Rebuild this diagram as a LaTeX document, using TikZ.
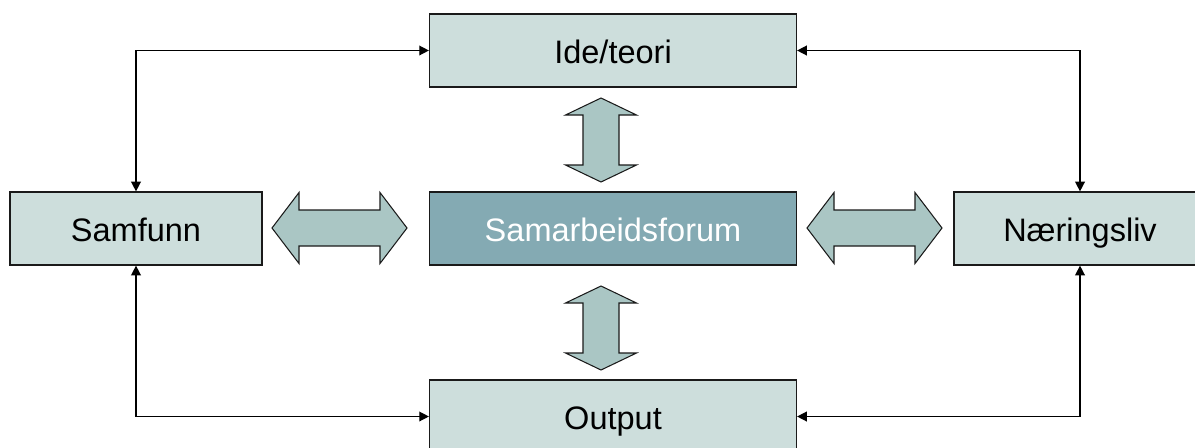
\documentclass[tikz,border=0pt]{standalone}
\usepackage{fontspec}
\setmainfont{Liberation Sans}
\usepackage{xcolor}
\usepackage{tikz}
\usetikzlibrary{arrows.meta}
\definecolor{boxfill}{HTML}{CDDEDC}
\definecolor{corefill}{HTML}{84AAB3}
\definecolor{blockfill}{HTML}{AAC6C4}
\definecolor{edge}{HTML}{1A1A1A}
\tikzset{
  box/.style={draw=edge, fill=boxfill, line width=0.7pt, minimum height=1.46cm, inner sep=0pt, text height=15pt, text depth=0.4pt, font=\fontsize{18.5}{22}\selectfont},
  wide/.style={box, minimum width=7.34cm},
  side/.style={box, minimum width=5.04cm},
  core/.style={wide, fill=corefill, text=white},
  link/.style={draw=black, line width=0.8pt, {Triangle[length=5.5pt,width=5.5pt]}-{Triangle[length=5.5pt,width=5.5pt]}},
  block/.style={draw=edge, fill=blockfill, line width=0.6pt, line join=miter},
}

\begin{document}
\begin{tikzpicture}[x=0.02cm, y=-0.02cm]
  \useasboundingbox (0,0) rectangle (1195,447);
  \node[wide] (ide) at (613,50.5) {Ide/teori};
  \node[side] (samfunn) at (136,228.5) {Samfunn};
  \node[core] (forum) at (613,228.5) {Samarbeidsforum};
  \node[side] (naering) at (1080,228.5) {Næringsliv};
  \node[wide] (output) at (613,416.5) {Output};
  \draw[link] (ide.west) -| (samfunn.north);
  \draw[link] (ide.east) -| (naering.north);
  \draw[link] (samfunn.south) |- (output.west);
  \draw[link] (naering.south) |- (output.east);
  \foreach \cx/\ty in {601/98, 601/286}
    \draw[block] (\cx,\ty) -- ++(35.5,17) -- ++(-17.5,0) -- ++(0,50) -- ++(17.5,0)
      -- (\cx,\ty+84) -- ++(-35.5,-17) -- ++(17.5,0) -- ++(0,-50) -- ++(-17.5,0) -- cycle;
  \foreach \lx in {272, 807}
    \draw[block] (\lx,228) -- ++(27,-35.5) -- ++(0,17.5) -- ++(81,0) -- ++(0,-17.5)
      -- (\lx+135,228) -- ++(-27,35.5) -- ++(0,-17.5) -- ++(-81,0) -- ++(0,17.5) -- cycle;
\end{tikzpicture}
\end{document}
